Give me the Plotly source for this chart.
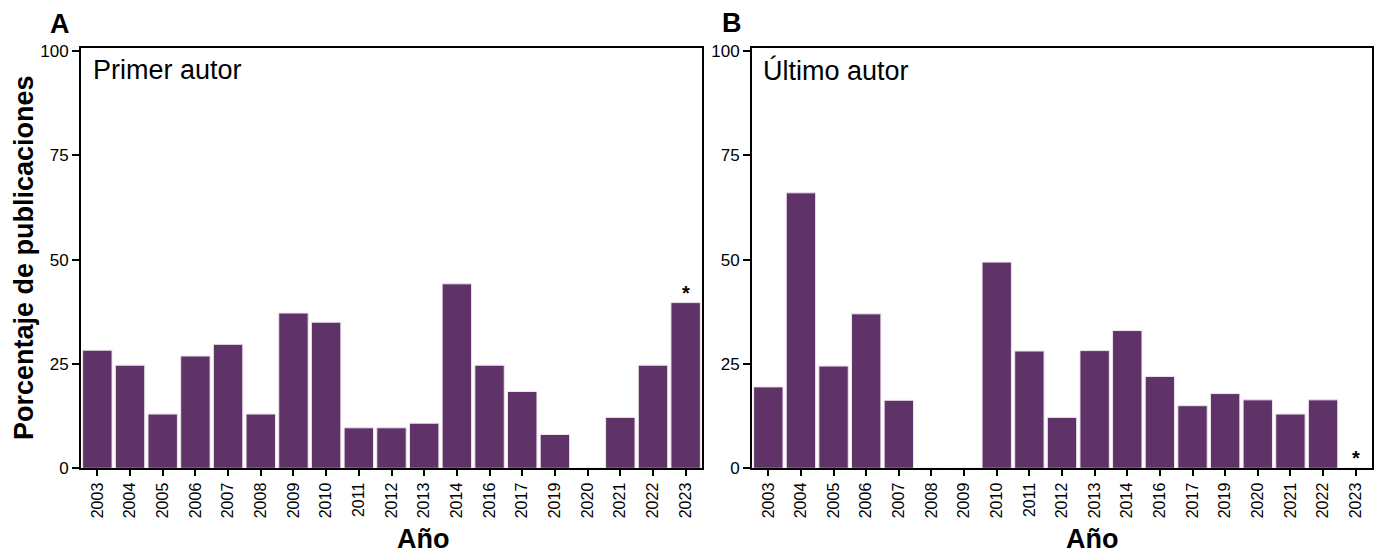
import plotly.graph_objects as go

# Years shown on each panel
years_first = ["2003", "2004", "2005", "2006", "2007", "2008", "2009", "2010", "2011", "2012",
               "2013", "2014", "2016", "2017", "2019", "2020", "2021", "2022", "2023"]
years_last = ["2003", "2004", "2005", "2006", "2007", "2008", "2009", "2010", "2011", "2012",
              "2013", "2014", "2016", "2017", "2019", "2020", "2021", "2022", "2023"]

# Percentage of publications (first author / last author)
pct_first = [28.3, 24.7, 13.0, 26.9, 29.7, 13.0, 37.2, 35.0, 9.7, 9.7,
             10.8, 44.2, 24.7, 18.4, 8.1, 0.0, 12.2, 24.7, 39.7]
pct_last = [19.5, 66.0, 24.5, 37.0, 16.3, 0.0, 0.0, 49.4, 28.1, 12.2,
            28.2, 33.0, 22.0, 15.0, 17.9, 16.4, 13.0, 16.4, 0.0]

y_ticks = [0, 25, 50, 75, 100]
marked_year = "2023"

W, H = 1374, 555
FONT = "Liberation Sans, Arial, sans-serif"
BAR = "#5f3368"

fig = go.Figure()
fig.add_trace(go.Bar(x=years_first, y=pct_first, xaxis="x", yaxis="y",
                     marker=dict(color=BAR, line=dict(color="#efe4ef", width=1))))
fig.add_trace(go.Bar(x=years_last, y=pct_last, xaxis="x2", yaxis="y2",
                     marker=dict(color=BAR, line=dict(color="#efe4ef", width=1))))

ydom = [1 - 468.3 / H, 1 - 48 / H]

def xaxis_style(dom, anchor):
    return dict(domain=dom, anchor=anchor, type="category", tickangle=-90,
                showline=True, linecolor="black", linewidth=2, mirror=True,
                ticks="outside", ticklen=6, tickwidth=2, tickcolor="black",
                tickfont=dict(family=FONT, size=16, color="black"),
                showgrid=False, zeroline=False, automargin=False, fixedrange=True)

def yaxis_style(anchor):
    return dict(domain=ydom, anchor=anchor, range=[0, 100.7], tickvals=y_ticks,
                showline=True, linecolor="black", linewidth=2, mirror=True,
                ticks="outside", ticklen=7, tickwidth=2, tickcolor="black",
                tickfont=dict(family=FONT, size=17, color="black"),
                showgrid=False, zeroline=False, automargin=False, fixedrange=True)

def paper_text(text, x, y, size, xanchor="center", angle=0):
    return dict(text=text, x=x / W, y=1 - y / H, xref="paper", yref="paper",
                xanchor=xanchor, yanchor="middle", textangle=angle, showarrow=False,
                font=dict(family=FONT, size=size, color="black"))

i_first = years_first.index(marked_year)
i_last = years_last.index(marked_year)

annotations = [
    paper_text("<b>A</b>", 60, 24, 27),
    paper_text("<b>B</b>", 732, 23, 27),
    paper_text("Primer autor", 91, 70, 27, xanchor="left"),
    paper_text("Último autor", 761, 70, 27, xanchor="left"),
    paper_text("<b>Porcentaje de publicaciones</b>", 24, 258, 27, angle=-90),
    paper_text("<b>Año</b>", 423, 539, 27),
    paper_text("<b>Año</b>", 1092, 539, 27),
    # markers above the 2023 bars (category index on the x axis)
    dict(text="<b>*</b>", x=i_first, y=pct_first[i_first], xref="x", yref="y",
         xanchor="center", yanchor="bottom", showarrow=False, yshift=-3,
         font=dict(family=FONT, size=20, color="black")),
    dict(text="<b>*</b>", x=i_last, y=pct_last[i_last], xref="x2", yref="y2",
         xanchor="center", yanchor="bottom", showarrow=False, yshift=-3,
         font=dict(family=FONT, size=20, color="black")),
]

fig.update_layout(
    width=W, height=H, margin=dict(l=0, r=0, t=0, b=0),
    paper_bgcolor="white", plot_bgcolor="white", showlegend=False,
    bargap=0.1,
    xaxis=xaxis_style([81 / W, 702 / W], "y"),
    yaxis=yaxis_style("x"),
    xaxis2=xaxis_style([752 / W, 1372 / W], "y2"),
    yaxis2=yaxis_style("x2"),
    annotations=annotations,
)

fig.write_html("out.html")
